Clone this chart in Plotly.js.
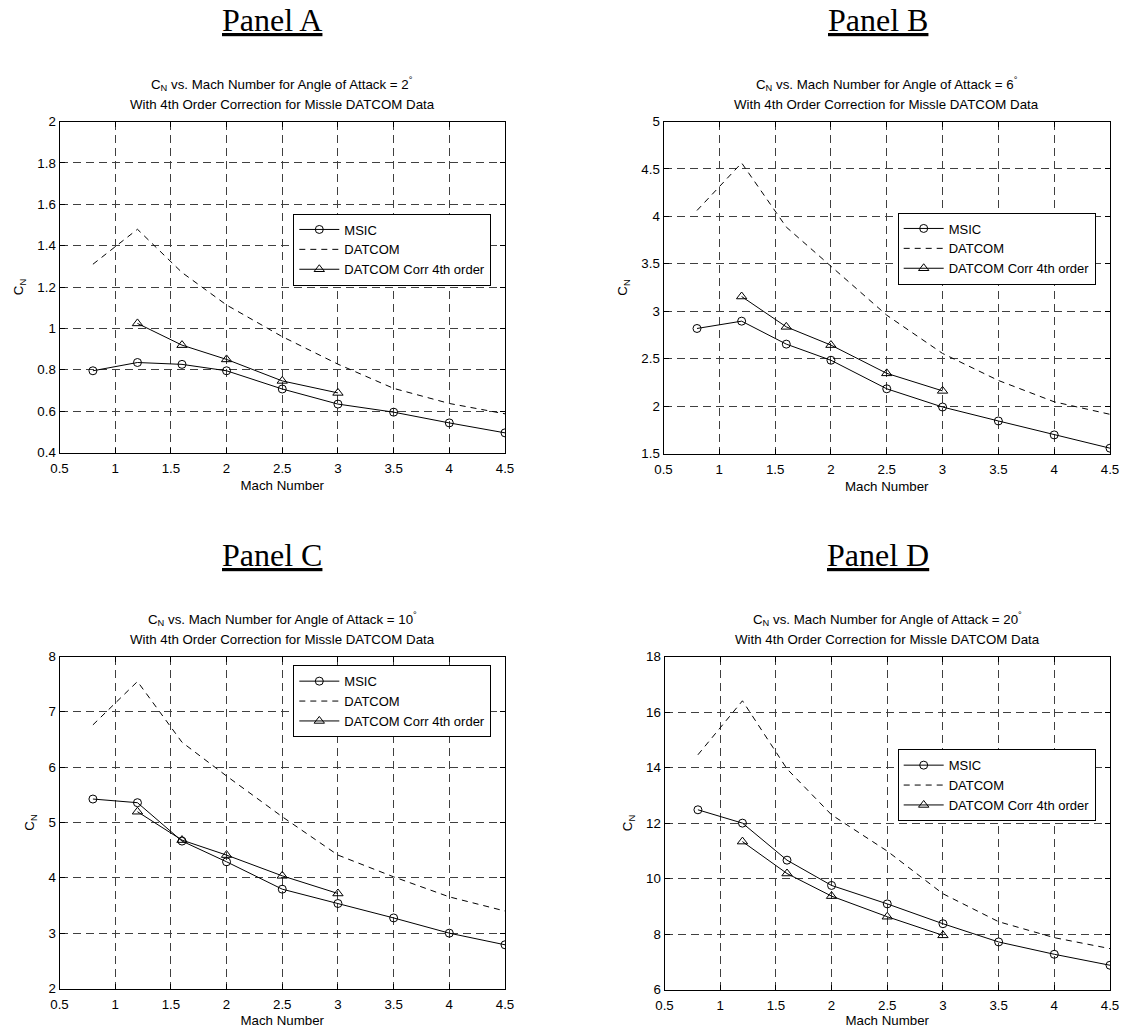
<!DOCTYPE html>
<html><head><meta charset="utf-8">
<script src="https://cdn.plot.ly/plotly-3.0.1.min.js"></script>
<style>html,body{margin:0;padding:0;background:#fff;} #chart{width:1121px;height:1028px;}</style>
</head><body><div id="chart"></div>
<script>
// ---------------- data ----------------
const mach = [0.8, 1.2, 1.6, 2, 2.5, 3, 3.5, 4, 4.5];
const machCorr = [1.2, 1.6, 2, 2.5, 3];

const panelLabels = ['Panel A', 'Panel B', 'Panel C', 'Panel D'];
const alphaDeg = [2, 6, 10, 20];

const msicA   = [0.795, 0.835, 0.826, 0.795, 0.707, 0.634, 0.595, 0.543, 0.495];
const datcomA = [1.31, 1.479, 1.27, 1.113, 0.96, 0.827, 0.71, 0.637, 0.587];
const corrA   = [1.024, 0.919, 0.85, 0.746, 0.688];

const msicB   = [2.818, 2.895, 2.653, 2.483, 2.182, 1.99, 1.843, 1.696, 1.556];
const datcomB = [4.062, 4.563, 3.887, 3.473, 2.958, 2.555, 2.27, 2.045, 1.913];
const corrB   = [3.155, 2.835, 2.643, 2.345, 2.16];

const msicC   = [5.424, 5.358, 4.664, 4.29, 3.795, 3.536, 3.275, 3.0, 2.79];
const datcomC = [6.764, 7.548, 6.45, 5.84, 5.104, 4.411, 4.018, 3.656, 3.40];
const corrC   = [5.195, 4.682, 4.411, 4.036, 3.717];

const msicD   = [12.476, 11.995, 10.661, 9.75, 9.085, 8.37, 7.713, 7.269, 6.874];
const datcomD = [14.458, 16.404, 13.95, 12.295, 10.987, 9.45, 8.443, 7.868, 7.473];
const corrD   = [11.33, 10.18, 9.365, 8.623, 7.952];

const yRanges = [[0.4, 2], [1.5, 5], [2, 8], [6, 18]];
const yDticks = [0.2, 0.5, 1, 2];
const xTicks = [0.5, 1, 1.5, 2, 2.5, 3, 3.5, 4, 4.5];

const seriesNames = ['MSIC', 'DATCOM', 'DATCOM Corr 4th order'];
const msicAll = [msicA, msicB, msicC, msicD];
const datcomAll = [datcomA, datcomB, datcomC, datcomD];
const corrAll = [corrA, corrB, corrC, corrD];

// ---------------- layout geometry (pixels in the 1121x1028 page) ----------------
const W = 1121, H = 1028;
const px = v => v / W;
const py = v => 1 - v / H;
// plot boxes: [left, right, top, bottom]
const boxes = [
  [59.5, 505, 121.5, 452.5],
  [663.5, 1110, 121.5, 453.5],
  [59.5, 505, 656.5, 988.5],
  [664.5, 1110, 656.5, 989.5]
];
const legendPos = [[293.3, 213.5], [897.7, 212.5], [293.3, 665.2], [897.7, 749.2]];
const panelCenters = [[272.4, 20.3], [877.5, 20.3], [272.4, 555.3], [877.5, 555.3]];

const FONT = 'Liberation Sans, Arial, Helvetica, sans-serif';
const FS = 13.3;
const traces = [];
const layout = {
  width: W, height: H,
  margin: {l: 0, r: 0, t: 0, b: 0},
  paper_bgcolor: '#ffffff', plot_bgcolor: '#ffffff',
  font: {family: FONT, size: FS, color: '#000'},
  showlegend: true,
  annotations: []
};

for (let i = 0; i < 4; i++) {
  const sfx = i === 0 ? '' : String(i + 1);
  const xa = 'x' + sfx, ya = 'y' + sfx;
  const lg = 'legend' + sfx;
  const b = boxes[i];

  traces.push({
    x: mach, y: msicAll[i], xaxis: xa, yaxis: ya, legend: lg,
    name: seriesNames[0], mode: 'lines+markers', type: 'scatter',
    line: {color: '#000', width: 1},
    marker: {symbol: 'circle-open', size: 8, color: '#000', line: {width: 1, color: '#000'}}
  });
  traces.push({
    x: mach, y: datcomAll[i], xaxis: xa, yaxis: ya, legend: lg,
    name: seriesNames[1], mode: 'lines', type: 'scatter',
    line: {color: '#000', width: 1, dash: '6px,5px'}
  });
  traces.push({
    x: machCorr, y: corrAll[i], xaxis: xa, yaxis: ya, legend: lg,
    name: seriesNames[2], mode: 'lines+markers', type: 'scatter',
    line: {color: '#000', width: 1},
    marker: {symbol: 'triangle-up-open', size: 9, color: '#000', line: {width: 1, color: '#000'}}
  });

  const axCommon = {
    showline: true, linecolor: '#000', linewidth: 1, mirror: 'ticks',
    ticks: 'inside', ticklen: 5, tickcolor: '#000', tickwidth: 1,
    showgrid: true, gridcolor: '#404040', gridwidth: 1, griddash: '8px,5px',
    zeroline: false, tickfont: {family: FONT, size: FS, color: '#000'},
    fixedrange: true
  };
  layout['xaxis' + sfx] = Object.assign({}, axCommon, {
    domain: [px(b[0]), px(b[1])], anchor: ya,
    range: [0.5, 4.5], tickmode: 'array', tickvals: xTicks,
    ticklabelstandoff: 4,
    title: {text: 'Mach Number', font: {family: FONT, size: FS, color: '#000'}, standoff: 5}
  });
  layout['yaxis' + sfx] = Object.assign({}, axCommon, {
    domain: [py(b[3]), py(b[2])], anchor: xa,
    range: yRanges[i], dtick: yDticks[i], tick0: yRanges[i][0],
    title: {text: 'C<sub>N</sub>', font: {family: FONT, size: FS, color: '#000'}, standoff: 10}
  });
  layout[lg] = {
    x: px(legendPos[i][0]), y: py(legendPos[i][1]), xanchor: 'left', yanchor: 'top',
    xref: 'paper', yref: 'paper',
    bgcolor: '#ffffff', bordercolor: '#000', borderwidth: 1,
    font: {family: FONT, size: 13, color: '#000'},
    tracegroupgap: 0, itemwidth: 40, traceorder: 'normal'
  };

  const cx = (b[0] + b[1]) / 2;
  layout.annotations.push({
    xref: 'paper', yref: 'paper', x: px(cx), y: py(b[2] - 37.5), xanchor: 'center', yanchor: 'middle',
    showarrow: false, font: {family: FONT, size: FS, color: '#000'},
    text: 'C<sub>N</sub> vs. Mach Number for Angle of Attack = ' + alphaDeg[i] + '<sup>°</sup>'
  });
  layout.annotations.push({
    xref: 'paper', yref: 'paper', x: px(cx), y: py(b[2] - 16.9), xanchor: 'center', yanchor: 'middle',
    showarrow: false, font: {family: FONT, size: FS, color: '#000'},
    text: 'With 4th Order Correction for Missle DATCOM Data'
  });
  layout.annotations.push({
    xref: 'paper', yref: 'paper', x: px(panelCenters[i][0]), y: py(panelCenters[i][1]),
    xanchor: 'center', yanchor: 'middle', showarrow: false,
    font: {family: 'Liberation Serif, Times New Roman, serif', size: 32, color: '#000'},
    text: '<u>' + panelLabels[i] + '</u>'
  });
}

Plotly.newPlot('chart', traces, layout, {displayModeBar: false, staticPlot: true});
</script>
</body></html>
